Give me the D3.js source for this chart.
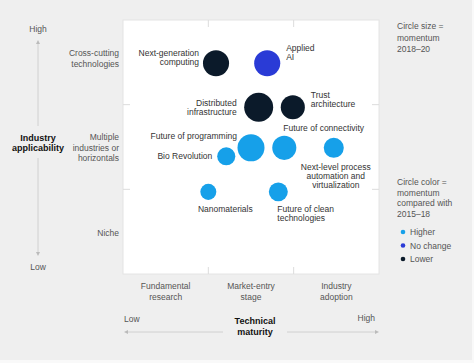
<!DOCTYPE html>
<html>
<head>
<meta charset="utf-8">
<script src="https://cdn.jsdelivr.net/npm/d3@7"></script>
<style>
  body { margin: 0; background: #f9f9f9; }
  text { font-family: "Liberation Sans", Arial, sans-serif; }
</style>
</head>
<body>
<svg width="474" height="363"></svg>
<script>
// technologies, their position on the two axes and momentum
var techs = ["Next-generation computing", "Applied AI", "Distributed infrastructure", "Trust architecture",
    "Future of programming", "Future of connectivity", "Bio Revolution",
    "Next-level process automation and virtualization", "Nanomaterials", "Future of clean technologies"]
var maturity = [1.09, 1.69, 1.59, 1.99, 1.5, 1.89, 1.21, 2.47, 1.0, 1.82]
var applicability = [2.49, 2.49, 1.97, 1.97, 1.49, 1.49, 1.39, 1.49, 0.97, 0.97]
var momentum = [170, 170, 210, 145, 182, 145, 82, 100, 64, 90]
var change = ["Lower", "No change", "Lower", "Lower", "Higher", "Higher", "Higher", "Higher", "Higher", "Higher"]

var xCats = [["Fundamental", "research"], ["Market-entry", "stage"], ["Industry", "adoption"]]
var yCats = [["Niche"], ["Multiple", "industries or", "horizontals"], ["Cross-cutting", "technologies"]]
var changeCats = ["Higher", "No change", "Lower"]

// label placement: [dx, dy, anchor]
var labelPos = [
    [-17, -10, "end"], [19, -15, "start"], [-22, -4, "end"], [18, -12, "start"],
    [-14, -12, "end"], [-1, -20, "start"], [-14, 0, "end"],
    [2, 19, "middle"], [17, 17, "middle"], [-1, 17, "start"]
]
var labelLines = [["Next-generation", "computing"], ["Applied", "AI"], ["Distributed", "infrastructure"], ["Trust", "architecture"],
    ["Future of programming"], ["Future of connectivity"], ["Bio Revolution"],
    ["Next-level process", "automation and", "virtualization"], ["Nanomaterials"], ["Future of clean", "technologies"]]

var data = techs.map((t, i) => ({name: t, x: maturity[i], y: applicability[i], m: momentum[i], c: change[i], lines: labelLines[i], pos: labelPos[i]}))

var svg = d3.select("svg")
var margin = ({top: 20, right: 95, bottom: 89, left: 123})
var width = 474, height = 363

svg.append("rect").attr("width", 472).attr("height", 360).attr("fill", "#efefef")

var x = d3.scaleLinear().domain([0, 3]).range([margin.left, width - margin.right])
var y = d3.scaleLinear().domain([0, 3]).range([height - margin.bottom, margin.top])
var r = d3.scaleSqrt().domain([0, 210]).range([0, 14.5])
var color = d3.scaleOrdinal().domain(changeCats).range(["#16a0e9", "#2a3bd6", "#0b1a2a"])

svg.append("rect")
    .attr("x", x(0)).attr("y", y(3))
    .attr("width", x(3) - x(0)).attr("height", y(0) - y(3))
    .attr("fill", "#fff").attr("stroke", "#e4e4e4")

// small notches on the panel edges
var notches = svg.append("g").attr("stroke", "#dcdcdc").attr("stroke-width", 1)
;[1, 2].forEach(v => {
    notches.append("line").attr("x1", x(v)).attr("x2", x(v)).attr("y1", y(3)).attr("y2", y(3) + 7)
    notches.append("line").attr("x1", x(v)).attr("x2", x(v)).attr("y1", y(0)).attr("y2", y(0) - 7)
    notches.append("line").attr("y1", y(v)).attr("y2", y(v)).attr("x1", x(0)).attr("x2", x(0) + 7)
    notches.append("line").attr("y1", y(v)).attr("y2", y(v)).attr("x1", x(3)).attr("x2", x(3) - 7)
})

// category labels
svg.append("g").selectAll("text").data(xCats).enter().append("text")
    .attr("text-anchor", "middle").attr("font-size", "8.5px").attr("fill", "#555")
    .attr("x", (d, i) => x(i + 0.5)).attr("y", y(0) + 15)
    .selectAll("tspan").data(d => d).enter().append("tspan")
    .attr("x", function() { return this.parentNode.getAttribute("x") })
    .attr("dy", (d, i) => i ? 11 : 0).text(d => d)

svg.append("g").selectAll("text").data(yCats).enter().append("text")
    .attr("text-anchor", "end").attr("font-size", "8.5px").attr("fill", "#555")
    .attr("x", x(0) - 4).attr("y", (d, i) => y(i + 0.5) + 3 - (d.length - 1) * 5 - (i == 2 ? 4 : 0) + (i == 0 ? 1 : 0))
    .selectAll("tspan").data(d => d).enter().append("tspan")
    .attr("x", x(0) - 4)
    .attr("dy", (d, i) => i ? 10.5 : 0).text(d => d)

// axis arrows
svg.append("defs").append("marker").attr("id", "arr")
    .attr("viewBox", "0 0 10 10").attr("refX", 5).attr("refY", 5)
    .attr("markerWidth", 4).attr("markerHeight", 4).attr("orient", "auto-start-reverse")
    .append("path").attr("d", "M0,0L10,5L0,10z").attr("fill", "#bbb")

var axisLine = svg.append("g").attr("stroke", "#d0d0d0").attr("fill", "none")
axisLine.append("line").attr("x1", 38).attr("x2", 38).attr("y1", 126).attr("y2", 42).attr("marker-end", "url(#arr)")
axisLine.append("line").attr("x1", 38).attr("x2", 38).attr("y1", 158).attr("y2", 254).attr("marker-end", "url(#arr)")
axisLine.append("line").attr("x1", 223).attr("x2", 126).attr("y1", 332).attr("y2", 332).attr("marker-end", "url(#arr)")
axisLine.append("line").attr("x1", 287).attr("x2", 377).attr("y1", 332).attr("y2", 332).attr("marker-end", "url(#arr)")

var axisText = svg.append("g").attr("font-size", "8.5px").attr("fill", "#555")
axisText.append("text").attr("x", 38).attr("y", 32).attr("text-anchor", "middle").text("High")
axisText.append("text").attr("x", 38).attr("y", 270).attr("text-anchor", "middle").text("Low")
axisText.append("text").attr("x", 124).attr("y", 322).text("Low")
axisText.append("text").attr("x", 375).attr("y", 321).attr("text-anchor", "end").text("High")

var title = svg.append("g").attr("font-size", "9px").attr("font-weight", "bold").attr("fill", "#111").attr("text-anchor", "middle")
title.append("text").attr("x", 38).attr("y", 141).text("Industry")
title.append("text").attr("x", 38).attr("y", 151).text("applicability")
title.append("text").attr("x", 255).attr("y", 324).text("Technical")
title.append("text").attr("x", 255).attr("y", 335).text("maturity")

// bubbles
svg.append("g").selectAll("circle").data(data).enter().append("circle")
    .attr("cx", d => x(d.x)).attr("cy", d => y(d.y)).attr("r", d => r(d.m))
    .attr("fill", d => color(d.c))

svg.append("g").selectAll("text").data(data).enter().append("text")
    .attr("font-size", "8.5px").attr("fill", "#333")
    .attr("text-anchor", d => d.pos[2])
    .attr("x", d => x(d.x) + d.pos[0]).attr("y", d => y(d.y) + d.pos[1] + 3)
    .selectAll("tspan").data(d => d.lines.map(l => [l, x(d.x) + d.pos[0]])).enter().append("tspan")
    .attr("x", d => d[1]).attr("dy", (d, i) => i ? 9 : 0).text(d => d[0])

// legend
var legend = svg.append("g").attr("font-size", "8.5px").attr("fill", "#555")
legend.append("text").attr("x", 397).attr("y", 29)
    .selectAll("tspan").data(["Circle size =", "momentum", "2018–20"]).enter().append("tspan")
    .attr("x", 397).attr("dy", (d, i) => i ? 11.5 : 0).text(d => d)
legend.append("text").attr("x", 397).attr("y", 185)
    .selectAll("tspan").data(["Circle color =", "momentum", "compared with", "2015–18"]).enter().append("tspan")
    .attr("x", 397).attr("dy", (d, i) => i ? 10.5 : 0).text(d => d)
legend.selectAll("circle").data(changeCats).enter().append("circle")
    .attr("cx", 403).attr("cy", (d, i) => 232 + i * 13.5).attr("r", 2.3).attr("fill", d => color(d))
legend.selectAll(".item").data(changeCats).enter().append("text")
    .attr("x", 410).attr("y", (d, i) => 235 + i * 13.5).text(d => d)
</script>
</body>
</html>
